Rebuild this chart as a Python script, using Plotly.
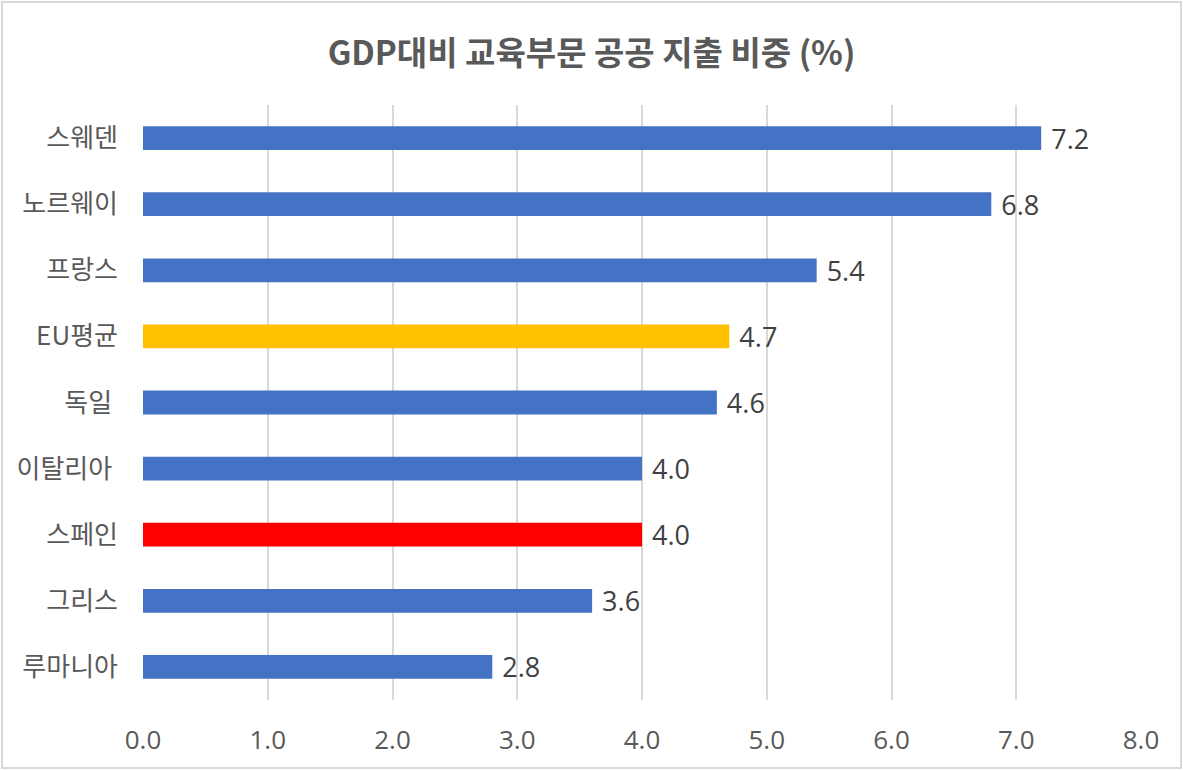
import plotly.graph_objects as go

# data (top to bottom as shown in the chart)
countries = ['스웨덴', '노르웨이', '프랑스', 'EU평균', '독일\u00a0', '이탈리아\u00a0', '스페인', '그리스', '루마니아']
spending = [7.2, 6.8, 5.4, 4.7, 4.6, 4.0, 4.0, 3.6, 2.8]
bar_colors = ['#4472C4', '#4472C4', '#4472C4', '#FFC000', '#4472C4',
              '#4472C4', '#FF0000', '#4472C4', '#4472C4']
x_ticks = [0, 1, 2, 3, 4, 5, 6, 7, 8]

W, H = 1183, 770
ML, MR, MT, MB = 143, 42, 105, 70

fig = go.Figure(go.Bar(
    x=spending,
    y=countries,
    orientation='h',
    marker=dict(color=bar_colors, line=dict(width=0)),
    text=['\u00a0%.1f' % v for v in spending],
    textposition='outside',
    constraintext='none',
    textfont=dict(size=27, color='#404040', family='Open Sans, Noto Sans CJK KR'),
    cliponaxis=False,
    width=0.36,
))

fig.update_layout(
    width=W, height=H,
    margin=dict(l=ML, r=MR, t=MT, b=MB),
    paper_bgcolor='white',
    plot_bgcolor='white',
    showlegend=False,
    font=dict(family='Noto Sans CJK KR, Noto Sans', color='#595959'),
    title=dict(
        text='<b>GDP대비 교육부문 공공 지출 비중 (%)</b>',
        x=0.5, xanchor='center', y=0.93, yanchor='middle',
        font=dict(size=33, color='#595959', family='Noto Sans CJK KR'),
    ),
    bargap=0.64,
)

fig.update_xaxes(
    range=[0, 8],
    tickvals=x_ticks,
    ticktext=['%.1f' % t for t in x_ticks],
    showgrid=True, gridcolor='#d9d9d9', gridwidth=2,
    zeroline=False, showline=False,
    tickfont=dict(size=26, color='#595959', family='Open Sans, Noto Sans'),
    ticklabelstandoff=22,
)

fig.update_yaxes(
    categoryorder='array',
    categoryarray=countries[::-1],
    showgrid=False, zeroline=False, showline=False,
    tickfont=dict(size=26, color='#595959', family='Noto Sans CJK KR'),
    ticklabelstandoff=24,
)

# light border around the whole chart
pw, ph = W - ML - MR, H - MT - MB
fig.add_shape(
    type='rect', xref='paper', yref='paper',
    x0=-(ML - 2) / pw, x1=1 + (MR - 2) / pw,
    y0=-(MB - 2) / ph, y1=1 + (MT - 2) / ph,
    line=dict(color='#d9d9d9', width=2),
    fillcolor='rgba(0,0,0,0)', layer='below',
)

# drop the default 8px body margin so the figure sits at the page corner
fig.write_html('out.html', config={'displayModeBar': False},
               post_script="document.body.style.margin='0';")
